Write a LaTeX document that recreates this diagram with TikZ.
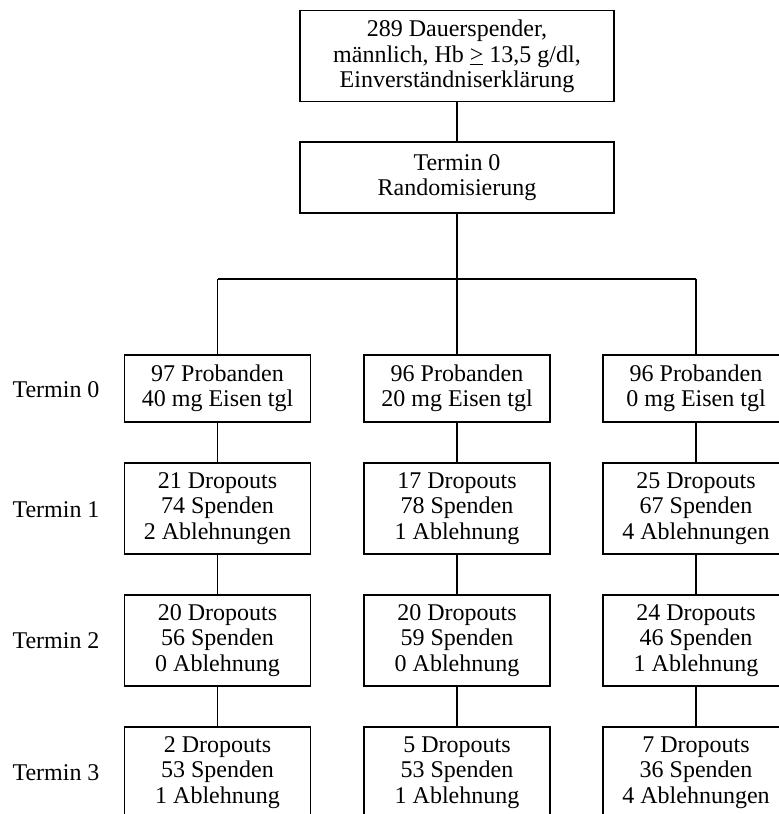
\documentclass[tikz,border=0pt]{standalone}
\usepackage{fontspec}
\setmainfont{Liberation Serif}
\usepackage{tikz}
\usetikzlibrary{positioning,calc}

\begin{document}
\begin{tikzpicture}[x=0.5pt,y=-0.5pt,
  box/.style={draw,line width=0.6pt,align=center,inner sep=0pt,
    minimum width=93pt,minimum height=45.5pt,
    font=\fontsize{12}{12.75}\selectfont},
  termlabel/.style={inner sep=0pt,font=\fontsize{12}{12.75}\selectfont},
  link/.style={line width=0.6pt}]

  \useasboundingbox (0,0) rectangle (779,814);
  \clip (0,0) rectangle (779,814);

  % head of the chart
  \node[box,minimum width=157pt] (start) at (457,56.3)
    {289 Dauerspender,\\m\"annlich, Hb \underline{>} 13,5 g/dl,\\Einverst\"andniserkl\"arung};
  \node[box,minimum width=157pt,minimum height=35.5pt] (rand) at (457,177.5)
    {Termin 0\\Randomisierung};
  \coordinate (split) at (457,279);

  % one column per dose group
  \foreach \col/\x/\txt in {a/217.5/{97 Probanden\\40 mg Eisen tgl},
                            b/457/{96 Probanden\\20 mg Eisen tgl},
                            c/696/{96 Probanden\\0 mg Eisen tgl}} {
    \node[box,minimum height=33.5pt] (p\col) at (\x,388.5) {\txt};
  }
  \foreach \col/\x/\txt in {a/217.5/{21 Dropouts\\74 Spenden\\2 Ablehnungen},
                            b/457/{17 Dropouts\\78 Spenden\\1 Ablehnung},
                            c/696/{25 Dropouts\\67 Spenden\\4 Ablehnungen}} {
    \node[box] (t1\col) at (\x,508.5) {\txt};
  }
  \foreach \col/\x/\txt in {a/217.5/{20 Dropouts\\56 Spenden\\0 Ablehnung},
                            b/457/{20 Dropouts\\59 Spenden\\0 Ablehnung},
                            c/696/{24 Dropouts\\46 Spenden\\1 Ablehnung}} {
    \node[box] (t2\col) at (\x,640.5) {\txt};
  }
  \foreach \col/\x/\txt in {a/217.5/{2 Dropouts\\53 Spenden\\1 Ablehnung},
                            b/457/{5 Dropouts\\53 Spenden\\1 Ablehnung},
                            c/696/{7 Dropouts\\36 Spenden\\4 Ablehnungen}} {
    \node[box] (t3\col) at (\x,772.5) {\txt};
  }

  % row labels
  \node[termlabel] (l0) at (56,390) {Termin 0};
  \node[termlabel] (l1) at (56,510) {Termin 1};
  \node[termlabel] (l2) at (56,641) {Termin 2};
  \node[termlabel] (l3) at (56,773) {Termin 3};

  % connectors
  \draw[link] (start) -- (rand);
  \draw[link] (rand) -- (split);
  \draw[link] (split -| pa) -- (split -| pc);
  \foreach \col in {a,b,c} {
    \draw[link] (split -| p\col) -- (p\col);
    \draw[link] (p\col) -- (t1\col);
    \draw[link] (t1\col) -- (t2\col);
    \draw[link] (t2\col) -- (t3\col);
  }

\end{tikzpicture}
\end{document}
